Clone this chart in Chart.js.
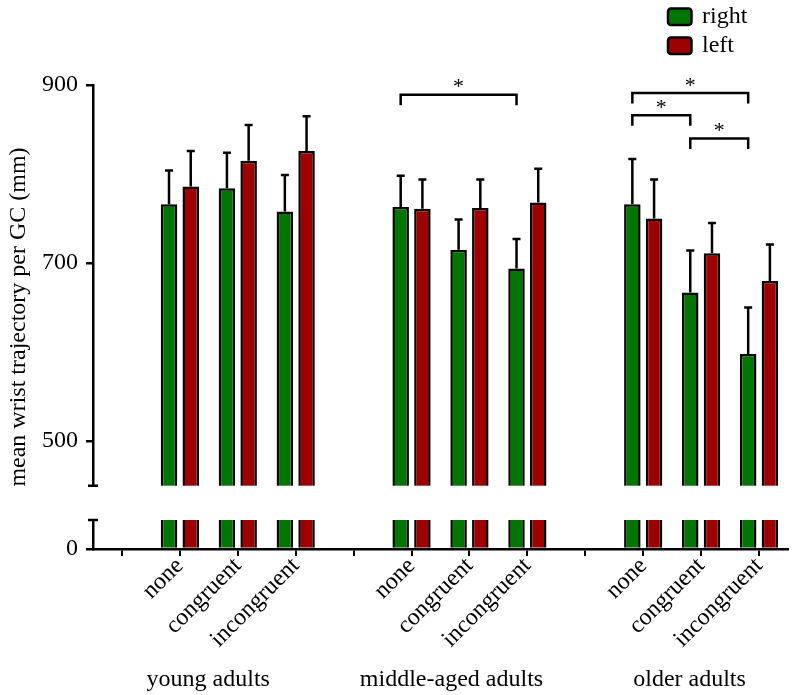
<!DOCTYPE html>
<html><head><meta charset="utf-8">
<script src="https://cdn.jsdelivr.net/npm/chart.js@4/dist/chart.umd.min.js"></script>
<style>html,body{margin:0;padding:0;background:#fff;} canvas{display:block;}</style>
</head><body>
<canvas id="c" width="792" height="695"></canvas>
<script>
// ---- data ----
const categories = ['', 'none', 'congruent', 'incongruent', '', 'none', 'congruent', 'incongruent', '', 'none', 'congruent', 'incongruent'];
const rightMeans = [null, 766, 784, 758, null, 763, 715, 694, null, 766, 667, 598];
const rightSD    = [null, 38, 40, 41, null, 35, 34, 33, null, 51, 47, 52];
const leftMeans  = [null, 786, 815, 826, null, 761, 762, 768, null, 750, 711, 680];
const leftSD     = [null, 40, 40, 39, null, 33, 32, 38, null, 44, 34, 41];
const yTicks = [0, 500, 700, 900];
const groupNames = ['young adults', 'middle-aged adults', 'older adults'];
const groupCenters = [1.49, 5.69, 9.8];
const sigFrom  = [5, 9, 9, 10];
const sigTo    = [7, 11, 10, 11];
const sigLevel = [889, 891, 866, 840];

const FONT = "'Liberation Serif', 'Times New Roman', serif";
const GREEN = 'rgb(0,118,0)';
const RED = 'rgb(158,0,0)';

// ---- broken linear scale ----
class BrokenLinearScale extends Chart.LinearScale {
  _segs() {
    const b = this.options.brk, top = this.top, bottom = this.bottom, H = bottom - top;
    const yLow = bottom - H * b.lowFrac;
    const yHigh = yLow - H * b.gapFrac;
    return {b, top, bottom, yLow, yHigh};
  }
  getPixelForValue(value) {
    const {b, top, bottom, yLow, yHigh} = this._segs();
    const max = this.max, min = this.min;
    if (value >= b.highMin) return yHigh - (value - b.highMin) / (max - b.highMin) * (yHigh - top);
    if (value <= b.lowMax) return bottom - (value - min) / (b.lowMax - min) * (bottom - yLow);
    return yLow - (value - b.lowMax) / (b.highMin - b.lowMax) * (yLow - yHigh);
  }
  getValueForPixel(pixel) {
    const {b, top, bottom, yLow, yHigh} = this._segs();
    if (pixel <= yHigh) return b.highMin + (yHigh - pixel) / (yHigh - top) * (this.max - b.highMin);
    if (pixel >= yLow) return this.min + (bottom - pixel) / (bottom - yLow) * (b.lowMax - this.min);
    return b.lowMax + (yLow - pixel) / (yLow - yHigh) * (b.highMin - b.lowMax);
  }
}
BrokenLinearScale.id = 'brokenLinear';
BrokenLinearScale.defaults = Chart.LinearScale.defaults;
Chart.register(BrokenLinearScale);

// ---- plugins ----
const decorations = {
  id: 'decorations',
  afterDatasetsDraw(chart) {
    const ctx = chart.ctx, ys = chart.scales.y, xs = chart.scales.x, ca = chart.chartArea;
    const b = ys.options.brk;
    ctx.save();
    // axis break gap
    const yHigh = ys.getPixelForValue(b.highMin), yLow = ys.getPixelForValue(b.lowMax);
    ctx.fillStyle = '#fff';
    ctx.fillRect(ca.left - 3, yHigh, ca.right - ca.left + 6, yLow - yHigh);
    ctx.strokeStyle = '#000';
    ctx.lineWidth = 2.5;
    ctx.beginPath();
    ctx.moveTo(ca.left - 5, yHigh); ctx.lineTo(ca.left + 5, yHigh);
    ctx.moveTo(ca.left - 5, yLow); ctx.lineTo(ca.left + 5, yLow);
    ctx.stroke();
    // error bars (upper only)
    chart.data.datasets.forEach((ds, di) => {
      const meta = chart.getDatasetMeta(di);
      ds.errors.forEach((e, i) => {
        if (e == null || ds.data[i] == null) return;
        const bar = meta.data[i];
        const yTop = ys.getPixelForValue(ds.data[i] + e);
        ctx.beginPath();
        ctx.moveTo(bar.x, bar.y); ctx.lineTo(bar.x, yTop);
        ctx.moveTo(bar.x - 4, yTop); ctx.lineTo(bar.x + 4, yTop);
        ctx.stroke();
      });
    });
    // significance brackets
    const m0 = chart.getDatasetMeta(0);
    ctx.fillStyle = '#000';
    ctx.font = '22px ' + FONT;
    ctx.textAlign = 'center';
    ctx.textBaseline = 'alphabetic';
    sigFrom.forEach((f, k) => {
      const x1 = m0.data[f].x, x2 = m0.data[sigTo[k]].x;
      const y = ys.getPixelForValue(sigLevel[k]);
      ctx.beginPath();
      ctx.moveTo(x1, y + 10.5); ctx.lineTo(x1, y); ctx.lineTo(x2, y); ctx.lineTo(x2, y + 10.5);
      ctx.stroke();
      ctx.fillText('*', (x1 + x2) / 2, y - 1.5);
    });
    // group labels
    ctx.font = '24px ' + FONT;
    groupNames.forEach((g, k) => {
      ctx.fillText(g, xs.getPixelForValue(groupCenters[k]), 686);
    });
    // legend
    ctx.textAlign = 'left';
    ctx.textBaseline = 'middle';
    chart.data.datasets.forEach((ds, di) => {
      const bx = 668, by = 8.5 + di * 29, bw = 23.5, bh = 16.5;
      ctx.beginPath();
      ctx.roundRect(bx, by, bw, bh, 3);
      ctx.fillStyle = ds.backgroundColor;
      ctx.fill();
      ctx.lineWidth = 2.5;
      ctx.strokeStyle = '#000';
      ctx.stroke();
      ctx.fillStyle = '#000';
      ctx.fillText(ds.label, 702, by + bh / 2);
    });
    ctx.restore();
  }
};

new Chart(document.getElementById('c'), {
  type: 'bar',
  data: {
    labels: categories,
    datasets: [
      {label: 'right', data: rightMeans, errors: rightSD, backgroundColor: GREEN, borderColor: '#000', borderWidth: 2.5},
      {label: 'left', data: leftMeans, errors: leftSD, backgroundColor: RED, borderColor: '#000', borderWidth: 2.5}
    ]
  },
  options: {
    responsive: false,
    animation: false,
    categoryPercentage: 0.75,
    barPercentage: 0.76,
    layout: {padding: {left: 0, right: 4, top: 85, bottom: 0}},
    plugins: {legend: {display: false}, tooltip: {enabled: false}},
    scales: {
      x: {
        type: 'category',
        offset: true,
        z: 1,
        grid: {offset: false, drawOnChartArea: false, drawTicks: true, tickLength: 7, color: '#000', lineWidth: 2},
        border: {display: true, color: '#000', width: 2.5},
        ticks: {autoSkip: false, maxRotation: 45, minRotation: 45, color: '#000', font: {family: FONT, size: 24}, padding: -4},
        afterFit: (s) => { s.height = 146; }
      },
      y: {
        type: 'brokenLinear',
        min: 0,
        max: 900,
        brk: {lowMax: 40, highMin: 450, lowFrac: 29 / 464, gapFrac: 34.3 / 464},
        afterBuildTicks: (s) => { s.ticks = yTicks.map(v => ({value: v})); },
        grid: {drawOnChartArea: false, drawTicks: true, tickLength: 7, color: '#000', lineWidth: 2.5},
        border: {display: true, color: '#000', width: 2.5},
        ticks: {color: '#000', font: {family: FONT, size: 24}, padding: 8},
        title: {display: true, text: 'mean wrist trajectory per GC (mm)', color: '#000', font: {family: FONT, size: 24}, padding: {top: 4, bottom: 0}},
        afterFit: (s) => { s.width = 93; }
      }
    }
  },
  plugins: [decorations]
});
</script>
</body></html>
